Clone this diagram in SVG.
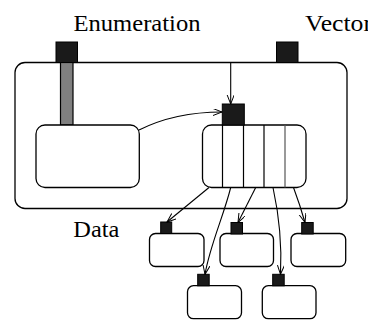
<svg xmlns="http://www.w3.org/2000/svg" width="368" height="325" viewBox="0 0 368 325">
<defs>
<style>
.box{fill:#fff;stroke:#000;stroke-width:1.3}
.sq{fill:#1a1a1a;stroke:#000;stroke-width:1}
.bar{fill:#808080;stroke:#000;stroke-width:1.2}
.div{stroke:#000;stroke-width:1.2}
.lbl{font-size:23px;fill:#000}
.con{fill:none;stroke:#000;stroke-width:1.1;marker-end:url(#ah)}
</style>
<marker id="ah" markerUnits="userSpaceOnUse" markerWidth="10" markerHeight="8" refX="9" refY="3.5" orient="auto">
<path d="M0,0 L9,3.5 L0,7" fill="none" stroke="#000" stroke-width="1"/>
</marker>
</defs>
<g id="labels" font-family="'Liberation Serif', 'DejaVu Serif', serif">
<text class="lbl" x="73.5" y="31" textLength="127" lengthAdjust="spacingAndGlyphs">Enumeration</text>
<text class="lbl" x="305" y="31" textLength="67" lengthAdjust="spacingAndGlyphs">Vector</text>
<text class="lbl" x="252.3" y="108.3" textLength="56" lengthAdjust="spacingAndGlyphs">Array</text>
<text class="lbl" x="73.3" y="236.7" textLength="46" lengthAdjust="spacingAndGlyphs">Data</text>
</g>
<g id="data">
<rect class="box" x="15" y="62.5" width="332" height="146" rx="10"/>
</g>
<g id="enumeration">
<rect class="bar" x="60.5" y="62.5" width="12.5" height="62.5"/>
<rect class="sq" x="56" y="42" width="21.5" height="20.5"/>
</g>
<g id="vector">
<rect class="sq" x="276.5" y="42" width="21.5" height="20.5"/>
</g>
<g id="inner">
<rect class="box" x="36" y="125" width="103.3" height="62.5" rx="9"/>
</g>
<g id="array">
<rect class="box" x="202.5" y="125" width="103.5" height="62.5" rx="9"/>
<line class="div" x1="222.5" y1="125" x2="222.5" y2="187.5"/>
<line class="div" x1="243.5" y1="125" x2="243.5" y2="187.5"/>
<line class="div" x1="264" y1="125" x2="264" y2="187.5"/>
<line x1="285" y1="125" x2="285" y2="187.5" stroke="#555" stroke-width="1.2"/>
<rect class="sq" x="222.3" y="104" width="22" height="21"/>
</g>
<g id="elem1">
<rect class="box" x="149.5" y="233.5" width="54.5" height="33" rx="6"/>
<rect class="sq" x="160.7" y="222" width="11" height="11.5"/>
</g>
<g id="elem2">
<rect class="box" x="220" y="233.5" width="53.5" height="33" rx="6"/>
<rect class="sq" x="231" y="222.5" width="11.5" height="11.5"/>
</g>
<g id="elem3">
<rect class="box" x="291" y="233.5" width="54.7" height="33" rx="6"/>
<rect class="sq" x="301.7" y="222.5" width="11.5" height="11.5"/>
</g>
<g id="elem4">
<rect class="box" x="187.5" y="285.7" width="54" height="33" rx="6"/>
<rect class="sq" x="197.7" y="274.3" width="11.5" height="11.5"/>
</g>
<g id="elem5">
<rect class="box" x="262.3" y="285.7" width="53.7" height="33" rx="6"/>
<rect class="sq" x="272.7" y="274.3" width="11.5" height="11.5"/>
</g>
<g id="connectors">
<path class="con" d="M230.7,62.5 L230.7,104"/>
<path class="con" d="M139,130 Q175,112 222,112"/>
<path class="con" d="M209,187.5 L167,222"/>
<path class="con" d="M230.7,187.5 C224,215 210,245 205,274.3"/>
<path class="con" d="M255.7,187.5 L238,222.5"/>
<path class="con" d="M273,187.5 C279,215 282,245 280.5,274.3"/>
<path class="con" d="M293.5,187.5 Q300,205 305,222.5"/>
</g>
</svg>
